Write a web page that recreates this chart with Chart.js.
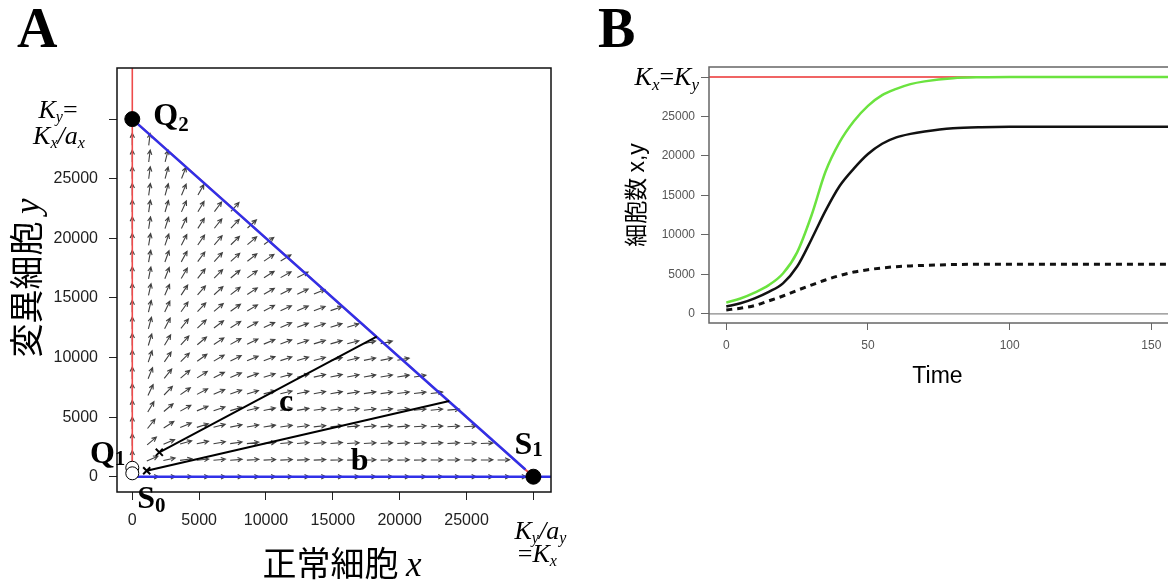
<!DOCTYPE html>
<html>
<head>
<meta charset="utf-8">
<script src="https://cdn.jsdelivr.net/npm/chart.js@4.4.1/dist/chart.umd.min.js"></script>
<style>
html, body { margin: 0; padding: 0; background: #fff; overflow: hidden; width: 1168px; height: 586px; }
.wrap { position: absolute; top: 0; }
#wrapA { left: 0; width: 600px; height: 586px; }
#wrapB { left: 600px; width: 640px; height: 400px; }
.letter { position: absolute; top: 0; font-family: "Liberation Serif", "Times New Roman", serif; font-weight: bold; font-size: 56px; line-height: 56px; }
</style>
</head>
<body>
<div class="wrap" id="wrapA"><canvas id="chartA" width="600" height="586"></canvas></div>
<div class="wrap" id="wrapB"><canvas id="chartB" width="640" height="400"></canvas></div>
<div class="letter" style="left:17px">A</div>
<div class="letter" style="left:598px">B</div>
<script>
// ---- Panel A: phase plane (normal cells x vs mutant cells y) ----
const Kx = 30000;
const Ky = 30000;
const xTicksA = [0, 5000, 10000, 15000, 20000, 25000, 30000];
const yTicksA = [0, 5000, 10000, 15000, 20000, 25000, 30000];

// growth ratio ry/rx
const growthRatio = 0.42;
const fieldX = [0, 1250, 2500, 3750, 5000, 6250, 7500, 8750, 10000, 11250, 12500, 13750,
                15000, 16250, 17500, 18750, 20000, 21250, 22500, 23750, 25000, 26250, 27500, 28750];
const fieldY = [0, 1400, 2800, 4200, 5600, 7000, 8400, 9800, 11200, 12600, 14000,
                15400, 16800, 18200, 19600, 21000, 22400, 23800, 25200, 26600, 28000];

// trajectories b and c (start, end)
const trajBx = [1077, 23710];
const trajBy = [503, 6350];
const trajCx = [2020, 18280];
const trajCy = [2047, 11745];

// equilibria
const stableX = [0, Kx];      // Q2, S1
const stableY = [Ky, 0];
const unstableX = [0, 0];     // Q1, S0
const unstableY = [750, 285];

// ---- Panel B: time course ----
const timeB   = [0, 5, 10, 15, 20, 25, 30, 35, 40, 45, 50, 55, 60, 65, 70, 80, 90, 100, 120, 160];
const totalB  = [1430, 1950, 2700, 3650, 5120, 7800, 12400, 18000, 21750, 24400, 26350, 27700, 28500, 29100, 29450, 29850, 29970, 30000, 30000, 30000];
const normalB = [930, 1350, 1980, 2800, 3870, 6000, 9400, 13050, 16200, 18400, 20250, 21550, 22350, 22800, 23100, 23500, 23650, 23700, 23700, 23700];
const mutantB = [510, 720, 1050, 1650, 2270, 2980, 3650, 4300, 4850, 5300, 5600, 5820, 5980, 6080, 6150, 6250, 6290, 6300, 6300, 6300];
const xTicksB = [0, 50, 100, 150];
const yTicksB = [0, 5000, 10000, 15000, 20000, 25000, 30000];

const sansFont = '"Liberation Sans", Arial, sans-serif';
const serifFont = '"Liberation Serif", "Times New Roman", serif';
const cjkFont = '"Noto Sans CJK JP", "Noto Sans CJK SC", sans-serif';

const pts = (xs, ys) => xs.map((v, i) => ({ x: v, y: ys[i] }));

// draw a run of text pieces with different fonts / baseline shifts
function drawRich(ctx, parts, x, y, align) {
    let w = 0;
    parts.forEach(p => { ctx.font = p[1]; w += ctx.measureText(p[0]).width; });
    let cx = align === 'center' ? x - w / 2 : align === 'right' ? x - w : x;
    ctx.textAlign = 'left';
    ctx.textBaseline = 'alphabetic';
    parts.forEach(p => {
        ctx.font = p[1];
        ctx.fillText(p[0], cx, y + (p[2] || 0));
        cx += ctx.measureText(p[0]).width;
    });
}

function drawArrow(ctx, x0, y0, x1, y1, head) {
    const a = Math.atan2(y1 - y0, x1 - x0);
    ctx.beginPath();
    ctx.moveTo(x0, y0);
    ctx.lineTo(x1, y1);
    ctx.moveTo(x1 - head * Math.cos(a - 0.45), y1 - head * Math.sin(a - 0.45));
    ctx.lineTo(x1, y1);
    ctx.lineTo(x1 - head * Math.cos(a + 0.45), y1 - head * Math.sin(a + 0.45));
    ctx.stroke();
}

const framePlugin = {
    id: 'frame',
    afterDatasetsDraw(chart, args, opts) {
        const { ctx, chartArea: a } = chart;
        ctx.save();
        ctx.strokeStyle = opts.color;
        ctx.lineWidth = opts.width;
        ctx.strokeRect(a.left, a.top, a.right - a.left, a.bottom - a.top);
        ctx.restore();
    }
};

// direction field for panel A
const fieldPlugin = {
    id: 'field',
    beforeDatasetsDraw(chart) {
        const { ctx, scales: { x, y } } = chart;
        const sx = x.getPixelForValue(1000) - x.getPixelForValue(0);
        const sy = y.getPixelForValue(1000) - y.getPixelForValue(0);
        const L = 12;
        ctx.save();
        ctx.strokeStyle = '#404040';
        ctx.lineWidth = 1.1;
        fieldY.forEach(gy => {
            fieldX.forEach(gx => {
                if (gx === 0 && gy === 0) return;
                if (gx + gy >= Kx) return;
                let dx = gx * sx, dy = growthRatio * gy * sy;
                const n = Math.hypot(dx, dy);
                dx /= n; dy /= n;
                const px = x.getPixelForValue(gx), py = y.getPixelForValue(gy);
                drawArrow(ctx, px - 0.2 * L * dx, py - 0.2 * L * dy, px + 0.8 * L * dx, py + 0.8 * L * dy, 5);
            });
        });
        ctx.restore();
    }
};

const labelsAPlugin = {
    id: 'labelsA',
    afterDraw(chart) {
        const { ctx, scales: { x, y }, chartArea } = chart;
        const it = s => 'italic ' + s + 'px ' + serifFont;
        const rg = s => s + 'px ' + serifFont;
        const bd = s => 'bold ' + s + 'px ' + serifFont;
        ctx.save();
        ctx.fillStyle = '#000';
        const x0 = x.getPixelForValue(0), y0 = y.getPixelForValue(0);
        const xK = x.getPixelForValue(Kx), yK = y.getPixelForValue(Ky);
        // Ky = Kx/ax on the y axis
        drawRich(ctx, [['K', it(26)], ['y', it(16), 4], ['=', rg(26)]], 58, yK - 1, 'center');
        drawRich(ctx, [['K', it(26)], ['x', it(16), 4], ['/', it(26)], ['a', it(26)], ['x', it(16), 4]], 59, yK + 25, 'center');
        // Ky/ay = Kx on the x axis
        drawRich(ctx, [['K', it(26)], ['y', it(16), 4], ['/', it(26)], ['a', it(26)], ['y', it(16), 4]], xK + 7, chartArea.bottom + 47, 'center');
        drawRich(ctx, [['=', rg(26)], ['K', it(26)], ['x', it(16), 4]], xK + 4, chartArea.bottom + 70, 'center');
        // equilibrium names
        drawRich(ctx, [['Q', bd(32)], ['2', bd(21), 6]], x0 + 21, yK + 6, 'left');
        drawRich(ctx, [['S', bd(32)], ['1', bd(21), 2]], xK - 19, y0 - 23, 'left');
        drawRich(ctx, [['Q', bd(32)], ['1', bd(21), 2]], x0 - 7, y0 - 14, 'right');
        drawRich(ctx, [['S', bd(32)], ['0', bd(21), 4]], x0 + 5, y0 + 31, 'left');
        // trajectory names
        drawRich(ctx, [['b', bd(32)]], x.getPixelForValue(17000), y.getPixelForValue(550), 'center');
        drawRich(ctx, [['c', bd(32)]], x.getPixelForValue(11500), y.getPixelForValue(5500), 'center');
        // axis titles
        const cx = (chartArea.left + chartArea.right) / 2 + 8;
        drawRich(ctx, [['正常細胞 ', '34px ' + cjkFont], ['x', it(35)]], cx, 576, 'center');
        ctx.translate(26, (chartArea.top + chartArea.bottom) / 2 - 2);
        ctx.rotate(-Math.PI / 2);
        drawRich(ctx, [['変異細胞 ', '34px ' + cjkFont], ['y', it(35)]], 0, 13, 'center');
        ctx.restore();
    }
};

const chartA = new Chart(document.getElementById('chartA'), {
    type: 'scatter',
    data: {
        datasets: [
            {   // unstable equilibria Q1, S0
                data: pts(unstableX, unstableY),
                pointRadius: 6.5, pointBackgroundColor: '#fff', pointBorderColor: '#000', pointBorderWidth: 1,
                showLine: false, order: 1
            },
            {   // stable equilibria Q2, S1
                data: pts(stableX, stableY),
                pointRadius: 7.5, pointBackgroundColor: '#000', pointBorderColor: '#000',
                showLine: false, order: 2
            },
            {   // start marks
                data: [{ x: trajBx[0], y: trajBy[0] }, { x: trajCx[0], y: trajCy[0] }],
                pointStyle: 'crossRot', pointRadius: 5, pointBorderColor: '#000', pointBorderWidth: 2,
                showLine: false, order: 3
            },
            {   // trajectory b
                data: pts(trajBx, trajBy), showLine: true, borderColor: '#000', borderWidth: 2,
                pointRadius: 0, order: 4
            },
            {   // trajectory c
                data: pts(trajCx, trajCy), showLine: true, borderColor: '#000', borderWidth: 2,
                pointRadius: 0, order: 5
            },
            {   // x nullcline along y = 0
                data: [{ x: 0, y: 0 }, { x: 40000, y: 0 }], showLine: true, borderColor: '#3030e8', borderWidth: 2.5,
                pointRadius: 0, order: 6
            },
            {   // x + y = K (blue)
                data: [{ x: 0, y: Ky }, { x: Kx - 600, y: 600 }], showLine: true, borderColor: '#3030e8', borderWidth: 2.5,
                pointRadius: 0, order: 7
            },
            {   // x + y = K (red, underneath)
                data: [{ x: 0, y: Ky }, { x: Kx, y: 0 }], showLine: true, borderColor: '#ee4b4b', borderWidth: 2,
                pointRadius: 0, order: 8
            },
            {   // y nullcline along x = 0
                data: [{ x: 0, y: 0 }, { x: 0, y: 40000 }], showLine: true, borderColor: '#ee4b4b', borderWidth: 1.6,
                pointRadius: 0, order: 9
            }
        ]
    },
    options: {
        responsive: false,
        devicePixelRatio: 1,
        animation: false,
        layout: { padding: { top: 68, right: 49, bottom: 0, left: 0 } },
        scales: {
            x: {
                type: 'linear', min: -1144, max: 31316,
                afterBuildTicks: s => { s.ticks = xTicksA.map(v => ({ value: v })); },
                afterFit: s => { s.height = 94; },
                ticks: {
                    callback: v => v === Kx ? '' : String(v),
                    font: { family: sansFont, size: 16 }, color: '#222',
                    padding: 11, autoSkip: false, maxRotation: 0
                },
                grid: { drawOnChartArea: false, tickLength: 8, color: '#222' },
                border: { display: false }
            },
            y: {
                type: 'linear', min: -1283, max: 34287,
                afterBuildTicks: s => { s.ticks = yTicksA.map(v => ({ value: v })); },
                afterFit: s => { s.width = 117; },
                ticks: {
                    callback: v => v === Ky ? '' : String(v),
                    font: { family: sansFont, size: 16 }, color: '#222',
                    padding: 11, autoSkip: false
                },
                grid: { drawOnChartArea: false, tickLength: 8, color: '#222' },
                border: { display: false }
            }
        },
        plugins: {
            legend: { display: false },
            tooltip: { enabled: false },
            frame: { color: '#111', width: 1.5 }
        }
    },
    plugins: [fieldPlugin, framePlugin, labelsAPlugin]
});

const labelsBPlugin = {
    id: 'labelsB',
    afterDraw(chart) {
        const { ctx, scales: { y }, chartArea } = chart;
        const it = s => 'italic ' + s + 'px ' + serifFont;
        const rg = s => s + 'px ' + serifFont;
        ctx.save();
        ctx.fillStyle = '#000';
        const yK = y.getPixelForValue(30000);
        drawRich(ctx, [['K', it(26)], ['x', it(17), 5], ['=', rg(26)], ['K', it(26)], ['y', it(17), 5]], 99, yK + 8, 'right');
        drawRich(ctx, [['Time', '23px ' + sansFont]], (chartArea.left + chartArea.right) / 2 - 4, 383, 'center');
        ctx.translate(35, (chartArea.top + chartArea.bottom) / 2);
        ctx.rotate(-Math.PI / 2);
        drawRich(ctx, [['細胞数 ', '23px ' + cjkFont], ['x,y', '23px ' + sansFont]], 0, 9, 'center');
        ctx.restore();
    }
};

const chartB = new Chart(document.getElementById('chartB'), {
    type: 'line',
    data: {
        datasets: [
            {   // mutant cells y
                data: pts(timeB, mutantB), borderColor: '#111', borderWidth: 3, borderDash: [6, 5],
                cubicInterpolationMode: 'monotone', pointRadius: 0, order: 1
            },
            {   // normal cells x
                data: pts(timeB, normalB), borderColor: '#111', borderWidth: 2.5,
                cubicInterpolationMode: 'monotone', pointRadius: 0, order: 2
            },
            {   // total x + y
                data: pts(timeB, totalB), borderColor: '#6be33f', borderWidth: 2.5,
                cubicInterpolationMode: 'monotone', pointRadius: 0, order: 3
            },
            {   // zero line
                data: [{ x: -20, y: 0 }, { x: 200, y: 0 }], borderColor: '#888', borderWidth: 1.2,
                pointRadius: 0, order: 4
            },
            {   // Kx = Ky
                data: [{ x: -20, y: 30000 }, { x: 200, y: 30000 }], borderColor: '#f06464', borderWidth: 2,
                pointRadius: 0, order: 5
            }
        ]
    },
    options: {
        responsive: false,
        devicePixelRatio: 1,
        animation: false,
        layout: { padding: { top: 67, right: 66, bottom: 0, left: 0 } },
        scales: {
            x: {
                type: 'linear', min: -6.1, max: 158,
                afterBuildTicks: s => { s.ticks = xTicksB.map(v => ({ value: v })); },
                afterFit: s => { s.height = 77; },
                ticks: {
                    callback: v => String(v),
                    font: { family: sansFont, size: 12 }, color: '#555',
                    padding: 8, autoSkip: false, maxRotation: 0
                },
                grid: { drawOnChartArea: false, tickLength: 7, color: '#666' },
                border: { display: false }
            },
            y: {
                type: 'linear', min: -1150, max: 31270,
                afterBuildTicks: s => { s.ticks = yTicksB.map(v => ({ value: v })); },
                afterFit: s => { s.width = 109; },
                ticks: {
                    callback: v => v === 30000 ? '' : String(v),
                    font: { family: sansFont, size: 12 }, color: '#555',
                    padding: 6, autoSkip: false
                },
                grid: { drawOnChartArea: false, tickLength: 8, color: '#666' },
                border: { display: false }
            }
        },
        plugins: {
            legend: { display: false },
            tooltip: { enabled: false },
            frame: { color: '#666', width: 1.5 }
        }
    },
    plugins: [framePlugin, labelsBPlugin]
});
</script>
</body>
</html>
